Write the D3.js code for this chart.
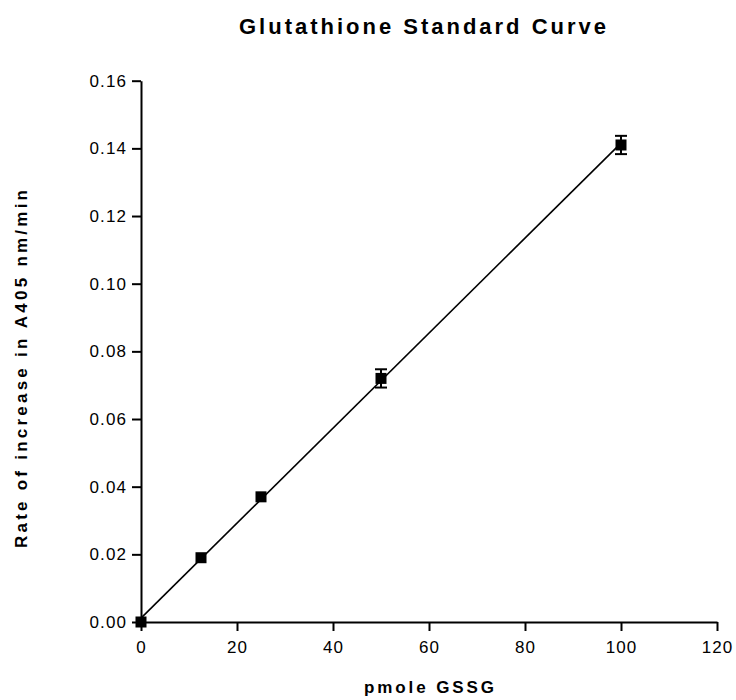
<!DOCTYPE html>
<html><head><meta charset="utf-8">
<script src="https://cdn.jsdelivr.net/npm/d3@7"></script>
<style>
body{margin:0;background:#fff;}
text{font-family:"Liberation Sans",Arial,sans-serif;}
</style></head>
<body>
<svg id="chart" width="736" height="700"></svg>
<script>
const pmole = [0, 12.5, 25, 50, 100];
const rate = [0, 0.019, 0.037, 0.072, 0.141];
const rateErr = [0, 0, 0, 0.0027, 0.0027];
const xTicks = [0, 20, 40, 60, 80, 100, 120];
const yTicks = [0, 0.02, 0.04, 0.06, 0.08, 0.10, 0.12, 0.14, 0.16];
const titleText = "Glutathione Standard Curve";
const xLabel = "pmole GSSG";
const yLabel = "Rate of increase in A405 nm/min";

const svg = d3.select("#chart");
const x = d3.scaleLinear().domain([0, 120]).range([141, 717]);
const y = d3.scaleLinear().domain([0, 0.16]).range([622, 80.7]);

// axes
const xAxis = d3.axisBottom(x).tickValues(xTicks).tickSize(9).tickSizeOuter(0).tickPadding(10)
  .tickFormat(d3.format("d"));
const yAxis = d3.axisLeft(y).tickValues(yTicks).tickSize(9).tickSizeOuter(0).tickPadding(5)
  .tickFormat(d3.format(".2f"));

const gx = svg.append("g").attr("transform", "translate(0,622)").call(xAxis);
const gy = svg.append("g").attr("transform", "translate(141,0)").call(yAxis);
[gx, gy].forEach(g => {
  g.select(".domain").attr("stroke", "#000").attr("stroke-width", 2);
  g.selectAll(".tick line").attr("stroke", "#000").attr("stroke-width", 2);
  g.selectAll(".tick text").attr("fill", "#000").style("font-size", "17px")
    .style("letter-spacing", "1.1px").style("font-family", "'Liberation Sans', Arial, sans-serif");
});

// regression line
const n = pmole.length;
const mx = d3.mean(pmole), my = d3.mean(rate);
let sxy = 0, sxx = 0;
for (let i = 0; i < n; i++) { sxy += (pmole[i] - mx) * (rate[i] - my); sxx += (pmole[i] - mx) ** 2; }
const slope = sxy / sxx, icpt = my - slope * mx;
const xMin = d3.min(pmole), xMax = d3.max(pmole);
svg.append("line")
  .attr("x1", x(xMin)).attr("y1", y(icpt + slope * xMin))
  .attr("x2", x(xMax)).attr("y2", y(icpt + slope * xMax))
  .attr("stroke", "#000").attr("stroke-width", 1.6);

// error bars
const eg = svg.append("g");
pmole.forEach((p, i) => {
  if (rateErr[i] <= 0) return;
  const cx = x(p), t = y(rate[i] + rateErr[i]), b = y(rate[i] - rateErr[i]);
  eg.append("line").attr("x1", cx).attr("x2", cx).attr("y1", t).attr("y2", b).attr("stroke", "#000").attr("stroke-width", 2);
  eg.append("line").attr("x1", cx - 6).attr("x2", cx + 6).attr("y1", t).attr("y2", t).attr("stroke", "#000").attr("stroke-width", 2);
  eg.append("line").attr("x1", cx - 6).attr("x2", cx + 6).attr("y1", b).attr("y2", b).attr("stroke", "#000").attr("stroke-width", 2);
});

// markers
svg.append("g").selectAll("rect").data(pmole).join("rect")
  .attr("x", d => x(d) - 5.5).attr("y", (d, i) => y(rate[i]) - 5.5)
  .attr("width", 11).attr("height", 11).attr("fill", "#000");

// title & labels
svg.append("text").attr("x", 422.5).attr("y", 34).attr("text-anchor", "middle")
  .style("font-size", "22px").style("font-weight", "bold")
  .attr("textLength", 367).attr("lengthAdjust", "spacing").text(titleText);
svg.append("text").attr("x", 429).attr("y", 693).attr("text-anchor", "middle")
  .style("font-size", "17px").style("font-weight", "bold")
  .attr("textLength", 130).attr("lengthAdjust", "spacing").text(xLabel);
svg.append("text").attr("transform", "translate(27,369) rotate(-90)").attr("text-anchor", "middle")
  .style("font-size", "17px").style("font-weight", "bold")
  .attr("textLength", 358).attr("lengthAdjust", "spacing").text(yLabel);
</script>
</body></html>
